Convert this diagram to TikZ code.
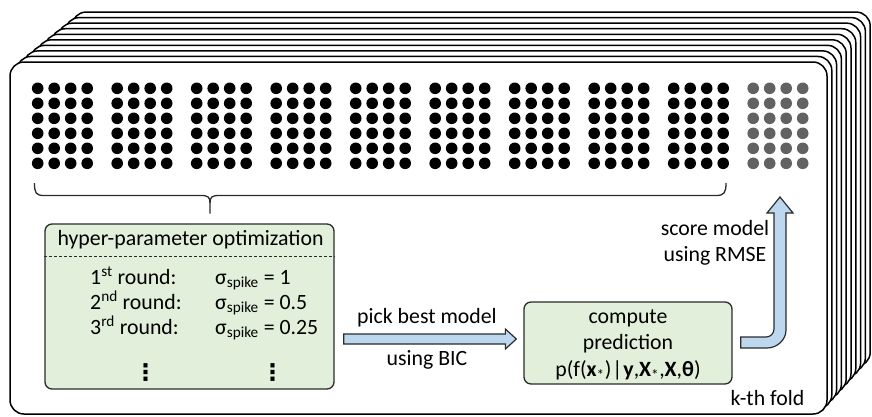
\documentclass[tikz,border=0pt]{standalone}
\usepackage{fontspec}
\setmainfont{Carlito}
\newfontfamily\symfont{DejaVu Sans}
\usetikzlibrary{calc}
\definecolor{boxgreen}{HTML}{E2EFDA}
\definecolor{arrowblue}{HTML}{BDD7EE}
\definecolor{edgegray}{HTML}{2B2B2B}
\definecolor{testgray}{HTML}{626262}
\tikzset{
  card/.style={draw=black, fill=white, line width=1.5pt, rounded corners=14pt},
  greenbox/.style={draw=edgegray, fill=boxgreen, line width=1.3pt, rounded corners=7pt, inner sep=0pt},
  blockarrow/.style={draw=edgegray, fill=arrowblue, line width=1.2pt, line join=miter},
  label/.style={font=\fontsize{21.8}{26}\selectfont, inner sep=0pt},
  vdotlabel/.style={font=\symfont\bfseries\fontsize{23}{26}\selectfont, inner sep=0pt},
  datadot/.style={fill=black},
  testdot/.style={fill=testgray},
}
\begin{document}
\begin{tikzpicture}[x=1pt,y=-1pt]
\useasboundingbox (0,0) rectangle (872,416);

% stack of folds, back to front
\foreach \i in {9,...,0}{
  \pgfmathsetmacro\cl{10+6.9*\i}
  \pgfmathsetmacro\cr{827+4.8*\i}
  \pgfmathsetmacro\ct{62-5.55*\i}
  \pgfmathsetmacro\cb{414-5.3*\i}
  \draw[card] (\cl,\ct) rectangle (\cr,\cb);
}

% ten groups of samples; the last one is held out
\foreach \g in {0,...,9}{
  \foreach \c in {0,...,3}{
    \foreach \r in {0,...,5}{
      \ifnum\g=9
        \fill[testdot] (37.7+79.5*\g+16.5*\c, 88.3+15*\r) circle (5.8);
      \else
        \fill[datadot] (37.7+79.5*\g+16.5*\c, 88.3+15*\r) circle (5.8);
      \fi
    }
  }
}

% brace over the training groups
\coordinate (braceL) at (34.5,183);
\coordinate (braceR) at (726,183);
\coordinate (braceTip) at (210,213.5);
\draw[line width=1.3pt, edgegray]
  (braceL) .. controls (34.5,193) and (36,195.5) .. (44,195.5) -- (201,195.5)
  .. controls (208,195.5) and (210,197) .. (210,203) -- (braceTip);
\draw[line width=1.3pt, edgegray]
  (210,203) .. controls (210,197) and (212,195.5) .. (219,195.5) -- (716,195.5)
  .. controls (724,195.5) and (726,193) .. (braceR);

% hyper-parameter optimization box
\node[greenbox, minimum width=289pt, minimum height=165pt] (hp) at (189.5,306.5) {};
\node[label, anchor=base] (hptitle) at (190.5,245) {hyper-parameter optimization};
\draw[edgegray, line width=1pt, dash pattern=on 3pt off 2pt] (hp.west |- 0,256.7) -- (hp.east |- 0,256.7);
\node[label, anchor=base west] (r1) at (90,284.3) {1\textsuperscript{st} round:};
\node[label, anchor=base west] (r2) at (90,309.3) {2\textsuperscript{nd} round:};
\node[label, anchor=base west] (r3) at (90,334.3) {3\textsuperscript{rd} round:};
\node[label, anchor=base west] (s1) at (215,284.3) {σ\textsubscript{spike} = 1};
\node[label, anchor=base west] (s2) at (215,309.3) {σ\textsubscript{spike} = 0.5};
\node[label, anchor=base west] (s3) at (215,334.3) {σ\textsubscript{spike} = 0.25};
\node[vdotlabel] (d1) at (145.7,372) {⋮};
\node[vdotlabel] (d2) at (272.7,372) {⋮};

% prediction box
\node[greenbox, minimum width=208pt, minimum height=82pt] (cp) at (628,343) {};
\node[label, anchor=base] (cp1) at (cp.center |- 0,323.5) {compute};
\node[label, anchor=base] (cp2) at (cp.center |- 0,349.5) {prediction};
\node[label, anchor=base] (cp3) at (cp.center |- 0,376.5)
  {p(f(\textbf{x}\textsubscript{*})\kern1pt|\kern1pt\textbf{y},\textbf{X}\textsubscript{*},\textbf{X},\textbf{θ})};

% arrow: pick best model
\coordinate (pickS) at ([shift={(9,32.5)}]hp.east);
\coordinate (pickE) at ([shift={(-7,-4)}]cp.west);
\draw[blockarrow]
  ($(pickS)+(0,-5)$) -- ($(pickE)+(-11,-5)$) -- ($(pickE)+(-11,-10)$) -- (pickE)
  -- ($(pickE)+(-11,10)$) -- ($(pickE)+(-11,5)$) -- ($(pickS)+(0,5)$) -- cycle;
\node[label, anchor=base] (pick1) at (427,323.3) {pick best model};
\node[label, anchor=base] (pick2) at (427,365) {using BIC};

% arrow: score model
\coordinate (scoreS) at ([shift={(8,-0.5)}]cp.east);
\coordinate (scoreE) at (780,197);
\draw[blockarrow]
  ($(scoreS)+(0,-5.5)$) -- (766,337) .. controls (770.5,337) and (774,333.5) .. (774,329)
  -- (774,213) -- (767,213) -- (scoreE) -- (793,213) -- (786,213)
  -- (786,330) .. controls (786,340) and (777,348) .. (767,348)
  -- ($(scoreS)+(0,5.5)$) -- cycle;
\node[label, anchor=base] (score1) at (715,235) {score model};
\node[label, anchor=base] (score2) at (715,261.7) {using RMSE};

\node[label, anchor=base] (fold) at (767.5,405) {k-th fold};
\end{tikzpicture}
\end{document}
